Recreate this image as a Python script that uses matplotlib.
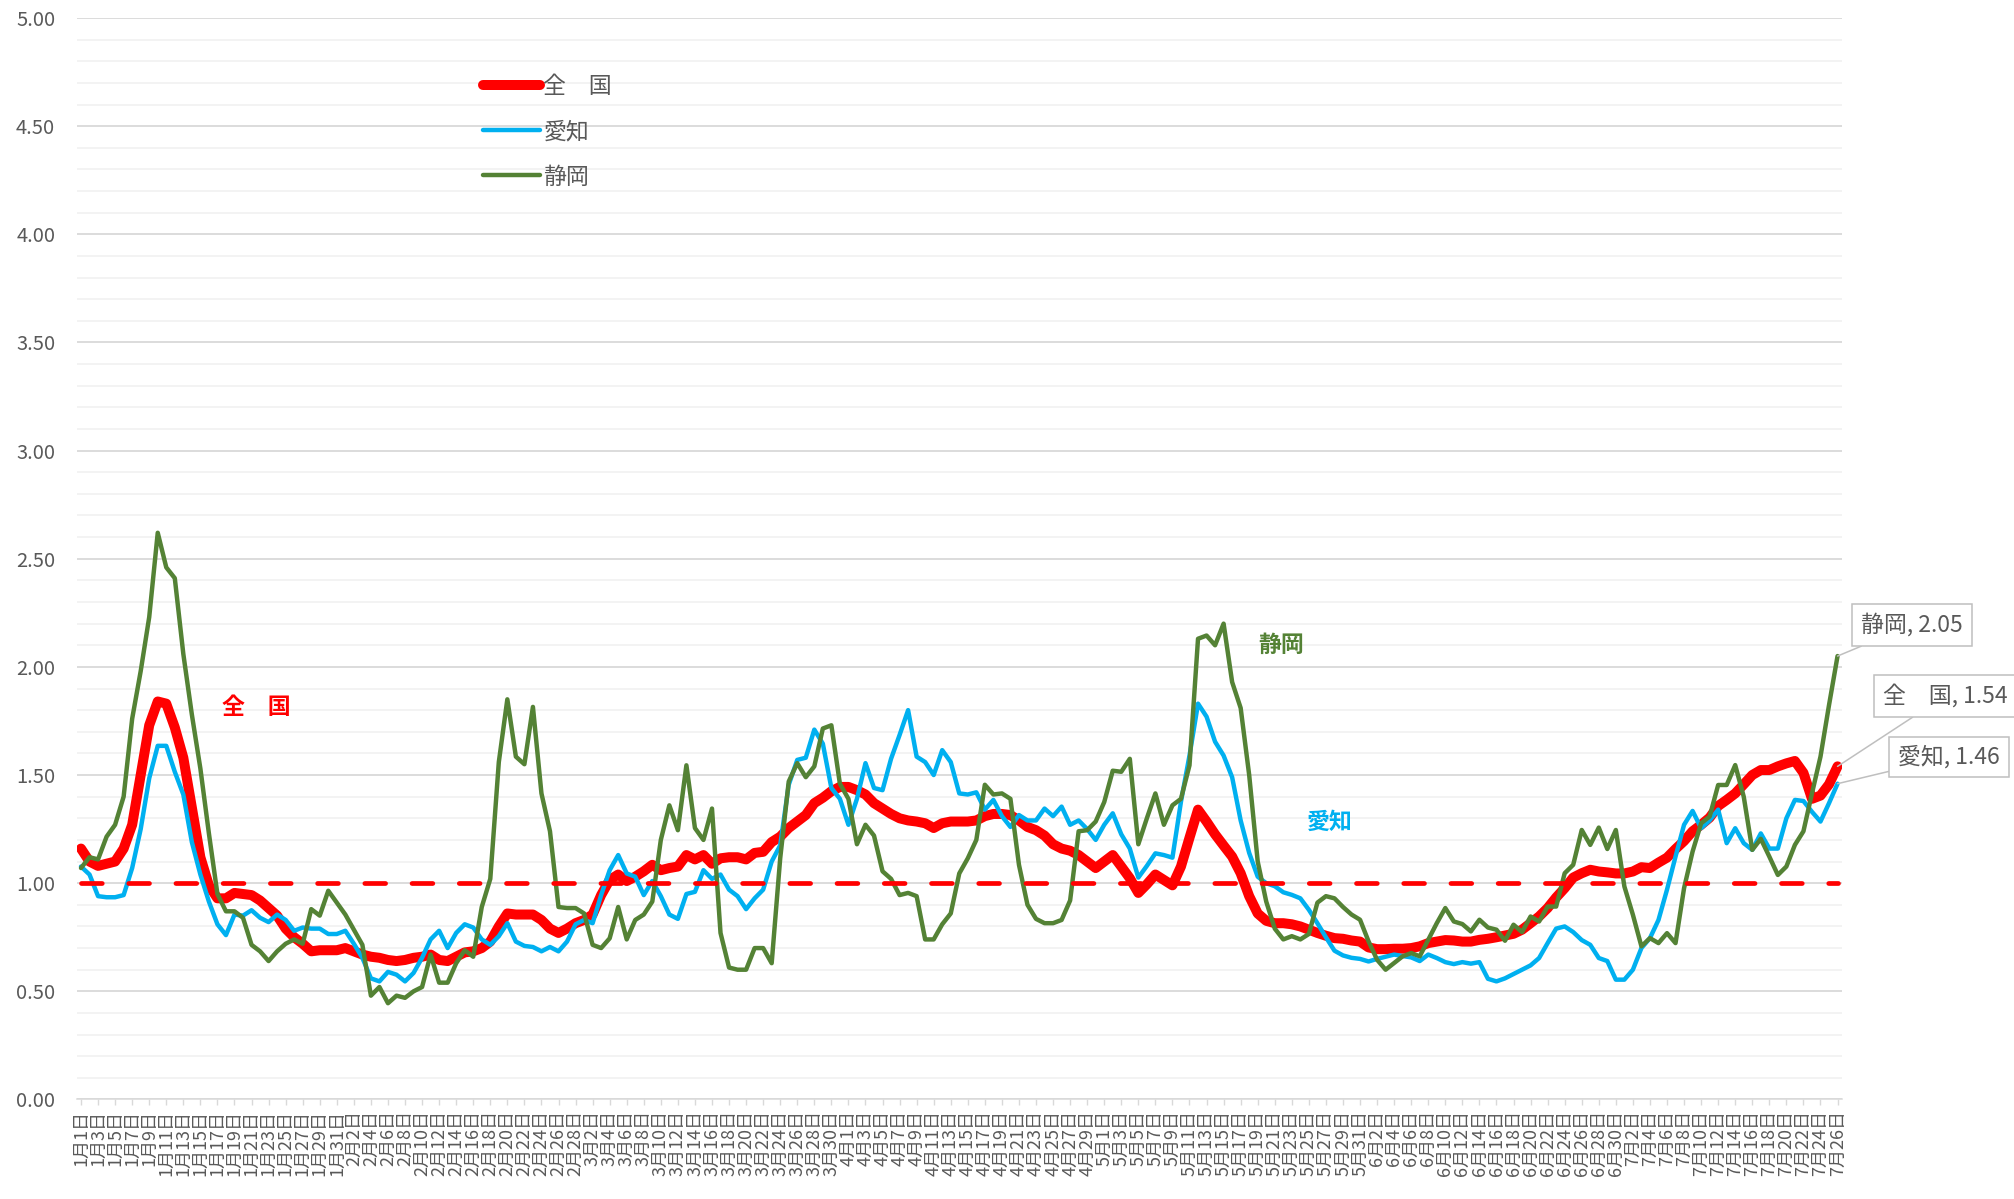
import numpy as np
import pandas as pd
import matplotlib
matplotlib.use("Agg")
import matplotlib.pyplot as plt
from matplotlib.ticker import MultipleLocator, FormatStrFormatter

plt.rcParams['font.family'] = ['Noto Sans CJK JP', 'DejaVu Sans']

# daily categories 2021/1/1 .. 2021/7/26
dates = pd.date_range('2021-01-01', '2021-07-26', freq='D')
date_labels = [f"{d.month}月{d.day}日" for d in dates]

zenkoku = [
    1.16, 1.10, 1.08, 1.09, 1.10, 1.16, 1.27, 1.50, 1.73, 1.84,
    1.83, 1.72, 1.58, 1.35, 1.12, 0.99, 0.93, 0.93, 0.955, 0.95,
    0.945, 0.92, 0.885, 0.85, 0.79, 0.75, 0.72, 0.685, 0.69, 0.69,
    0.69, 0.70, 0.685, 0.67, 0.66, 0.655, 0.645, 0.64, 0.645, 0.655,
    0.66, 0.67, 0.645, 0.64, 0.66, 0.68, 0.685, 0.70, 0.73, 0.80,
    0.86, 0.855, 0.855, 0.855, 0.83, 0.79, 0.77, 0.79, 0.815, 0.83,
    0.855, 0.945, 1.015, 1.04, 1.01, 1.03, 1.055, 1.085, 1.06, 1.07,
    1.077, 1.13, 1.11, 1.13, 1.09, 1.115, 1.12, 1.12, 1.11, 1.14,
    1.145, 1.19, 1.215, 1.255, 1.285, 1.315, 1.37, 1.395, 1.425, 1.445,
    1.445, 1.43, 1.41, 1.37, 1.345, 1.32, 1.30, 1.29, 1.285, 1.277,
    1.255, 1.277, 1.285, 1.285, 1.285, 1.29, 1.31, 1.32, 1.32, 1.315,
    1.29, 1.26, 1.245, 1.22, 1.18, 1.16, 1.15, 1.13, 1.10, 1.07,
    1.10, 1.13, 1.077, 1.023, 0.955, 0.995, 1.04, 1.015, 0.99, 1.077,
    1.21, 1.34, 1.285, 1.226, 1.174, 1.123, 1.046, 0.94, 0.86, 0.826,
    0.815, 0.815, 0.81, 0.80, 0.785, 0.77, 0.757, 0.746, 0.743, 0.735,
    0.73, 0.703, 0.695, 0.695, 0.697, 0.697, 0.70, 0.708, 0.723, 0.73,
    0.737, 0.735, 0.73, 0.73, 0.738, 0.743, 0.75, 0.758, 0.766, 0.785,
    0.815, 0.846, 0.885, 0.934, 0.977, 1.026, 1.046, 1.062, 1.054, 1.05,
    1.045, 1.045, 1.054, 1.074, 1.07, 1.095, 1.118, 1.158, 1.195, 1.24,
    1.27, 1.303, 1.357, 1.385, 1.415, 1.457, 1.50, 1.523, 1.523, 1.54,
    1.554, 1.565, 1.51, 1.39, 1.405, 1.457, 1.54,
]

aichi = [
    1.077, 1.04, 0.94, 0.935, 0.935, 0.945, 1.07, 1.25, 1.485, 1.635,
    1.635, 1.515, 1.41, 1.19, 1.04, 0.915, 0.81, 0.76, 0.855, 0.85,
    0.875, 0.84, 0.82, 0.855, 0.83, 0.78, 0.795, 0.79, 0.79, 0.765,
    0.765, 0.78, 0.72, 0.655, 0.56, 0.546, 0.59, 0.577, 0.546, 0.585,
    0.655, 0.74, 0.78, 0.70, 0.77, 0.81, 0.795, 0.74, 0.715, 0.755,
    0.815, 0.73, 0.71, 0.705, 0.685, 0.705, 0.685, 0.73, 0.81, 0.83,
    0.815, 0.945, 1.06, 1.13, 1.045, 1.03, 0.945, 1.01, 0.94, 0.855,
    0.835, 0.95, 0.96, 1.06, 1.02, 1.04, 0.97, 0.94, 0.88, 0.93,
    0.97, 1.10, 1.175, 1.455, 1.57, 1.58, 1.71, 1.645, 1.44, 1.39,
    1.27, 1.39, 1.555, 1.44, 1.43, 1.575, 1.685, 1.80, 1.585, 1.56,
    1.50, 1.615, 1.56, 1.415, 1.41, 1.42, 1.34, 1.385, 1.31, 1.26,
    1.315, 1.29, 1.29, 1.345, 1.31, 1.354, 1.27, 1.29, 1.25, 1.20,
    1.27, 1.323, 1.226, 1.16, 1.026, 1.08, 1.138, 1.13, 1.118, 1.377,
    1.59, 1.83, 1.77, 1.654, 1.59, 1.49, 1.29, 1.14, 1.03, 1.00,
    0.986, 0.958, 0.946, 0.93, 0.877, 0.815, 0.75, 0.688, 0.666, 0.655,
    0.65, 0.638, 0.65, 0.66, 0.67, 0.663, 0.657, 0.64, 0.67, 0.654,
    0.635, 0.626, 0.635, 0.628, 0.635, 0.558, 0.546, 0.56, 0.58, 0.60,
    0.62, 0.654, 0.723, 0.79, 0.80, 0.774, 0.737, 0.715, 0.654, 0.64,
    0.554, 0.554, 0.60, 0.70, 0.746, 0.83, 0.97, 1.123, 1.27, 1.334,
    1.254, 1.29, 1.34, 1.185, 1.254, 1.185, 1.154, 1.23, 1.16, 1.16,
    1.30, 1.385, 1.38, 1.33, 1.285, 1.37, 1.46,
]

shizuoka = [
    1.07, 1.12, 1.11, 1.215, 1.27, 1.40, 1.76, 1.98, 2.23, 2.62,
    2.46, 2.41, 2.06, 1.78, 1.53, 1.23, 0.95, 0.87, 0.87, 0.84,
    0.715, 0.685, 0.64, 0.685, 0.72, 0.74, 0.72, 0.88, 0.85, 0.965,
    0.91, 0.855, 0.785, 0.715, 0.48, 0.52, 0.445, 0.48, 0.47, 0.50,
    0.52, 0.67, 0.54, 0.54, 0.63, 0.69, 0.66, 0.89, 1.02, 1.56,
    1.85, 1.585, 1.55, 1.815, 1.415, 1.24, 0.89, 0.885, 0.885, 0.86,
    0.715, 0.70, 0.745, 0.89, 0.74, 0.83, 0.855, 0.915, 1.20, 1.36,
    1.245, 1.545, 1.255, 1.20, 1.345, 0.77, 0.61, 0.60, 0.60, 0.70,
    0.70, 0.63, 1.115, 1.47, 1.555, 1.49, 1.54, 1.715, 1.73, 1.46,
    1.39, 1.18, 1.27, 1.22, 1.055, 1.02, 0.945, 0.955, 0.94, 0.74,
    0.74, 0.81, 0.86, 1.045, 1.115, 1.20, 1.455, 1.41, 1.415, 1.39,
    1.085, 0.90, 0.835, 0.815, 0.815, 0.83, 0.92, 1.24, 1.245, 1.285,
    1.375, 1.52, 1.515, 1.575, 1.18, 1.30, 1.415, 1.27, 1.36, 1.39,
    1.545, 2.13, 2.145, 2.10, 2.20, 1.93, 1.81, 1.50, 1.10, 0.915,
    0.79, 0.74, 0.755, 0.74, 0.765, 0.91, 0.94, 0.93, 0.89, 0.855,
    0.831, 0.731, 0.646, 0.60, 0.631, 0.662, 0.677, 0.662, 0.738, 0.815,
    0.885, 0.823, 0.811, 0.777, 0.831, 0.795, 0.785, 0.734, 0.808, 0.774,
    0.846, 0.823, 0.892, 0.892, 1.046, 1.085, 1.246, 1.177, 1.257, 1.158,
    1.246, 0.985, 0.854, 0.708, 0.746, 0.723, 0.769, 0.723, 0.977, 1.146,
    1.277, 1.308, 1.454, 1.454, 1.546, 1.40, 1.154, 1.205, 1.123, 1.038,
    1.077, 1.177, 1.24, 1.415, 1.585, 1.823, 2.05,
]

BASELINE = 1.0

names = ['全　国', '愛知', '静岡']
colors = ['#FF0000', '#00B0F0', '#548235']
widths = [7.2, 3.2, 3.2]

x = np.arange(len(dates))

fig = plt.figure(figsize=(20.14, 11.99), dpi=100)
ax = fig.add_axes([0.0381, 0.0830, 0.8764, 0.9020])

handles = []
for i, (name, vals) in enumerate(zip(names, [zenkoku, aichi, shizuoka])):
    ln, = ax.plot(x, vals, color=colors[i], lw=widths[i], label=name,
                  solid_joinstyle='round', solid_capstyle='round', zorder=3 + i)
    handles.append(ln)

ax.plot([x[0], x[-1]], [BASELINE, BASELINE], color='#FF0000', lw=3.4,
        linestyle=(0, (4.4, 5.6)), dash_capstyle='round', zorder=7)

ax.set_xlim(-0.5, len(dates) - 0.5)
ax.set_ylim(0, 5)
ax.yaxis.set_major_locator(MultipleLocator(0.5))
ax.yaxis.set_minor_locator(MultipleLocator(0.1))
ax.yaxis.set_major_formatter(FormatStrFormatter('%.2f'))
ax.grid(which='major', axis='y', color='#D9D9D9', lw=1.3, zorder=0)
ax.grid(which='minor', axis='y', color='#F2F2F2', lw=1.3, zorder=0)
ax.set_axisbelow(True)

ax.set_xticks(x[::2])
ax.set_xticklabels(date_labels[::2], rotation=90, fontsize=13, color='#595959')
ax.tick_params(axis='x', which='major', length=4.3, width=1.0, color='#D9D9D9', pad=3)
ax.tick_params(axis='y', which='both', length=0, labelsize=14.5, labelcolor='#595959', pad=15.5)

for s in ['top', 'right', 'left']:
    ax.spines[s].set_visible(False)
ax.spines['bottom'].set_color('#D9D9D9')
ax.spines['bottom'].set_linewidth(1.1)

leg = fig.legend(handles, names, loc='upper left',
                 bbox_to_anchor=(482.7 / 2014, 1 - 75 / 1199),
                 frameon=False, fontsize=16.5, handlelength=2.5,
                 handletextpad=0.15, labelspacing=0.97, borderpad=0,
                 borderaxespad=0)
for t in leg.get_texts():
    t.set_color('#595959')

# series name labels inside the plot
ax.text(20.6, 1.81, '全　国', color='#FF0000', fontsize=16.5, fontweight='bold',
        ha='center', va='center')
ax.text(140.8, 2.097, '静岡', color='#548235', fontsize=16.5, fontweight='bold',
        ha='center', va='center')
ax.text(146.5, 1.28, '愛知', color='#00B0F0', fontsize=16.5, fontweight='bold',
        ha='center', va='center')

# end-of-line data labels
label_pos = {'静岡': (1912, 1199 - 625), '全　国': (1945, 1199 - 696), '愛知': (1949, 1199 - 757)}
for name, vals in zip(names, [zenkoku, aichi, shizuoka]):
    ax.annotate(f"{name}, {vals[-1]:.2f}", xy=(x[-1], vals[-1]), xytext=label_pos[name],
                textcoords='figure pixels', ha='center', va='center', fontsize=16.5,
                color='#595959', annotation_clip=False,
                bbox=dict(boxstyle='square,pad=0.38', fc='white', ec='#BFBFBF', lw=1.1),
                arrowprops=dict(arrowstyle='-', color='#BFBFBF', lw=1.1,
                                shrinkA=0, shrinkB=0),
                zorder=10)

fig.savefig('out.png', dpi=100)
